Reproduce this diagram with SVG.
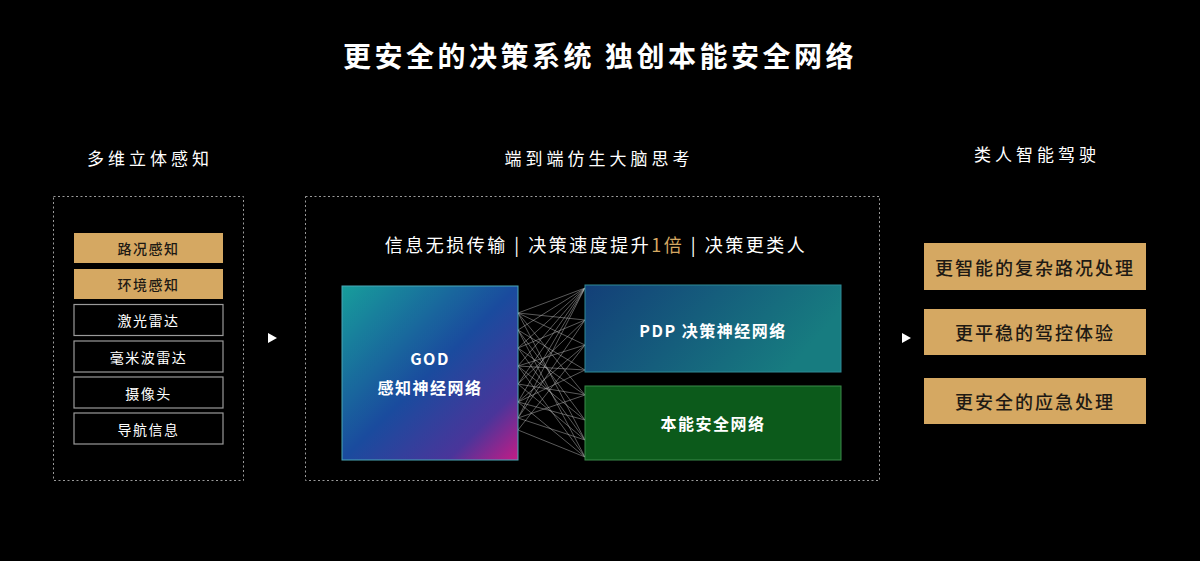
<svg xmlns="http://www.w3.org/2000/svg" width="1200" height="561" viewBox="0 0 1200 561">
<defs>
<style>
text{font-family:"Noto Sans CJK SC","Noto Sans",sans-serif;text-anchor:middle;dominant-baseline:central}
.title{fill:#fff;font-size:28px;font-weight:bold;letter-spacing:3.5px}
.head{fill:#fff;font-size:17px;letter-spacing:4px}
.dash{fill:none;stroke:#9a9a9a;stroke-width:1;stroke-dasharray:2 2.5}
.gold{fill:#d5a862}
.outl{fill:#000;stroke:#9a9a9a;stroke-width:1.2}
.dk{fill:#1e1a14;font-size:14px;letter-spacing:1.5px;font-weight:500}
.wt{fill:#fff;font-size:14px;letter-spacing:1.5px}
.big{fill:#fff;font-size:16px;font-weight:bold;letter-spacing:1.5px}
.rk{fill:#1e1a14;font-size:18px;letter-spacing:2px;font-weight:500}
.mesh line{stroke:#c8c8c8;stroke-width:0.6;opacity:0.75}
.arr{fill:#fff}
</style>
<linearGradient id="gGod" x1="0" y1="0" x2="1" y2="1">
<stop offset="0" stop-color="#179d9b"/>
<stop offset="0.5" stop-color="#1a4b9e"/>
<stop offset="0.8" stop-color="#4a359a"/>
<stop offset="1" stop-color="#c41c86"/>
</linearGradient>
<linearGradient id="gPdp" x1="0" y1="0" x2="1" y2="0.3">
<stop offset="0" stop-color="#133f78"/>
<stop offset="1" stop-color="#177c80"/>
</linearGradient>
</defs>
<rect width="1200" height="561" fill="#000"/>
<text class="title" x="600" y="55">更安全的决策系统 独创本能安全网络</text>

<g id="col-left">
<text class="head" x="150" y="157">多维立体感知</text>
<rect class="dash" x="53.5" y="196.5" width="190" height="284"/>
<g id="n-lukuang"><rect class="gold" x="74" y="233" width="149" height="30"/><text class="dk" x="148.5" y="248">路况感知</text></g>
<g id="n-huanjing"><rect class="gold" x="74" y="269" width="149" height="30"/><text class="dk" x="148.5" y="284">环境感知</text></g>
<g id="n-lidar"><rect class="outl" x="74" y="304.5" width="149" height="31"/><text class="wt" x="148.5" y="320">激光雷达</text></g>
<g id="n-mmwave"><rect class="outl" x="74" y="341" width="149" height="31"/><text class="wt" x="148.5" y="356.5">毫米波雷达</text></g>
<g id="n-camera"><rect class="outl" x="74" y="377" width="149" height="31"/><text class="wt" x="148.5" y="392.5">摄像头</text></g>
<g id="n-nav"><rect class="outl" x="74" y="413" width="149" height="31"/><text class="wt" x="148.5" y="428.5">导航信息</text></g>
</g>

<g id="col-mid">
<text class="head" x="599" y="157">端到端仿生大脑思考</text>
<rect class="dash" x="305.5" y="196.5" width="574" height="284"/>
<text x="596" y="244" style="fill:#fff;font-size:18px;letter-spacing:2.5px" xml:space="preserve">信息无损传输 | 决策速度提升<tspan fill="#d5a862">1倍</tspan> | 决策更类人</text>
</g>

<g id="connectors" class="mesh">
<line x1="518" y1="313" x2="585" y2="288"/>
<line x1="518" y1="313" x2="585" y2="345"/>
<line x1="518" y1="313" x2="585" y2="395"/>
<line x1="518" y1="313" x2="585" y2="440"/>
<line x1="518" y1="313" x2="585" y2="320"/>
<line x1="518" y1="330" x2="585" y2="288"/>
<line x1="518" y1="330" x2="585" y2="370"/>
<line x1="518" y1="330" x2="585" y2="420"/>
<line x1="518" y1="330" x2="585" y2="457"/>
<line x1="518" y1="348" x2="585" y2="288"/>
<line x1="518" y1="348" x2="585" y2="320"/>
<line x1="518" y1="348" x2="585" y2="395"/>
<line x1="518" y1="348" x2="585" y2="440"/>
<line x1="518" y1="366" x2="585" y2="288"/>
<line x1="518" y1="366" x2="585" y2="345"/>
<line x1="518" y1="366" x2="585" y2="370"/>
<line x1="518" y1="366" x2="585" y2="420"/>
<line x1="518" y1="366" x2="585" y2="457"/>
<line x1="518" y1="384" x2="585" y2="288"/>
<line x1="518" y1="384" x2="585" y2="320"/>
<line x1="518" y1="384" x2="585" y2="395"/>
<line x1="518" y1="384" x2="585" y2="440"/>
<line x1="518" y1="402" x2="585" y2="288"/>
<line x1="518" y1="402" x2="585" y2="345"/>
<line x1="518" y1="402" x2="585" y2="370"/>
<line x1="518" y1="402" x2="585" y2="420"/>
<line x1="518" y1="402" x2="585" y2="457"/>
<line x1="518" y1="418" x2="585" y2="320"/>
<line x1="518" y1="418" x2="585" y2="395"/>
<line x1="518" y1="418" x2="585" y2="440"/>
<line x1="518" y1="418" x2="585" y2="288"/>
<line x1="518" y1="430" x2="585" y2="345"/>
<line x1="518" y1="430" x2="585" y2="457"/>
</g>

<g id="n-god">
<rect x="342" y="286" width="176" height="174" fill="url(#gGod)" stroke="#4aa8b8" stroke-width="1"/>
<text class="big" x="430" y="358">GOD</text>
<text class="big" x="430" y="387">感知神经网络</text>
</g>
<g id="n-pdp">
<rect x="585" y="285" width="256" height="87" fill="url(#gPdp)" stroke="#2f8a95" stroke-width="1"/>
<text class="big" x="713" y="330">PDP 决策神经网络</text>
</g>
<g id="n-safety">
<rect x="585" y="386" width="256" height="74" fill="#0c5a1b" stroke="#3b8a4a" stroke-width="1"/>
<text class="big" x="713" y="423">本能安全网络</text>
</g>

<g id="arrows">
<polygon class="arr" points="268,333 277,338 268,343"/>
<polygon class="arr" points="902,333 911,338 902,343"/>
</g>

<g id="col-right">
<text class="head" x="1037" y="153">类人智能驾驶</text>
<g id="n-r1"><rect class="gold" x="924" y="243" width="222" height="47"/><text class="rk" x="1035" y="267">更智能的复杂路况处理</text></g>
<g id="n-r2"><rect class="gold" x="924" y="309" width="222" height="46"/><text class="rk" x="1035" y="332">更平稳的驾控体验</text></g>
<g id="n-r3"><rect class="gold" x="924" y="378" width="222" height="46"/><text class="rk" x="1035" y="401">更安全的应急处理</text></g>
</g>
</svg>
